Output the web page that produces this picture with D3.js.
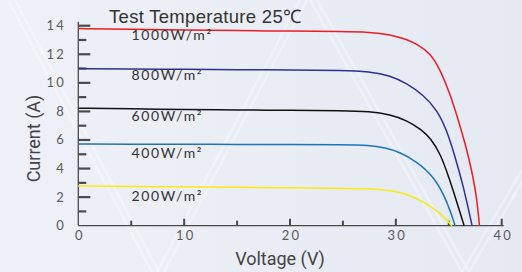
<!DOCTYPE html>
<html>
<head>
<meta charset="utf-8">
<script src="https://cdn.jsdelivr.net/npm/d3@7"></script>
<style>
  html, body { margin: 0; padding: 0; background: #e8ebf3; }
  svg { display: block; }
</style>
</head>
<body>
<svg id="chart" width="522" height="272"></svg>
<script>
// I-V curves at different irradiance levels, test temperature 25°C
const xTicks = [0, 10, 20, 30, 40];
const xMinor = [5, 15, 25, 35];
const yTicks = [0, 2, 4, 6, 8, 10, 12, 14];
const yMinor = [1, 3, 5, 7, 9, 11, 13];

const seriesNames = ['1000W/m²', '800W/m²', '600W/m²', '400W/m²', '200W/m²'];
const seriesColors = ['#ec1c24', '#2e3192', '#111111', '#1c75bc', '#f7ec13'];

// [voltage, current]
const curve1000 = [[0,13.8],[5,13.75],[10,13.7],[15,13.66],[20,13.62],[25,13.59],[27.5,13.55],[29.5,13.38],[31,13.05],[32,12.7],[33.3,12.06],[34.2,10.9],[35.1,9.27],[35.9,7.4],[36.6,5.6],[37.0,4.4],[37.6,2.3],[37.9,0]];
const curve800 = [[0,11.0],[5,10.97],[10,10.95],[15,10.92],[20,10.9],[25,10.88],[27.5,10.8],[29.5,10.5],[31,9.97],[32.6,9.15],[33.9,8.1],[34.8,6.7],[35.5,5.07],[36.4,2.73],[37.2,0]];
const curve600 = [[0,8.22],[5,8.18],[10,8.14],[15,8.1],[20,8.08],[25,8.06],[27.5,8.0],[29.5,7.78],[31,7.38],[32.4,6.75],[33.3,6.1],[34.2,5.07],[35.1,3.2],[35.9,1.33],[36.45,0]];
const curve400 = [[0,5.72],[5,5.71],[10,5.7],[15,5.69],[20,5.68],[25,5.67],[27.5,5.63],[29,5.45],[30.3,5.18],[32,4.48],[33.6,3.43],[34.8,1.8],[35.6,0]];
const curve200 = [[0,2.78],[5,2.75],[10,2.72],[15,2.69],[20,2.66],[24,2.63],[27.5,2.6],[29.5,2.45],[31,2.25],[32.9,1.57],[34.2,0.87],[35.3,0]];
const curves = [curve1000, curve800, curve600, curve400, curve200];
const labelY = [13.0, 10.23, 7.36, 4.72, 1.75];

const svg = d3.select('#chart');
const W = 522, H = 272;

// background
const defs = svg.append('defs');
const grad = defs.append('linearGradient').attr('id', 'bg').attr('x1', 0).attr('x2', 1).attr('y1', 0).attr('y2', 0);
grad.append('stop').attr('offset', 0).attr('stop-color', '#eef1f7');
grad.append('stop').attr('offset', 1).attr('stop-color', '#e5e9f2');
svg.append('rect').attr('width', W).attr('height', H).attr('fill', 'url(#bg)');

// faint decorative stripes
const stripes = [
  [[8, 0], [152, 272]], [[15, 0], [159, 272]],
  [[300, 0], [157, 272]], [[307, 0], [164, 272]],
  [[310, 0], [462, 272]], [[317, 0], [469, 272]],
  [[462, 272], [522, 170]], [[469, 272], [522, 182]]
];
svg.append('g').selectAll('line').data(stripes).join('line')
  .attr('x1', d => d[0][0]).attr('y1', d => d[0][1])
  .attr('x2', d => d[1][0]).attr('y2', d => d[1][1])
  .attr('stroke', '#ffffff').attr('stroke-width', 2.5).attr('opacity', 0.35);

const x = d3.scaleLinear().domain([0, 40]).range([78.3, 501.7]);
const y = d3.scaleLinear().domain([0, 14]).range([225.7, 25.7]);

const axisColor = '#4a4a4a';
const g = svg.append('g');

// axis lines
g.append('line').attr('x1', x(0)).attr('x2', x(0)).attr('y1', y(14) - 4).attr('y2', y(0))
  .attr('stroke', axisColor).attr('stroke-width', 1.3);
g.append('line').attr('x1', x(0)).attr('x2', x(40) + 2).attr('y1', y(0)).attr('y2', y(0))
  .attr('stroke', axisColor).attr('stroke-width', 1.3);

// y ticks (pointing inward)
g.selectAll('.ymaj').data(yTicks.filter(v => v > 0)).join('line')
  .attr('x1', x(0)).attr('x2', x(0) + 12)
  .attr('y1', d => y(d)).attr('y2', d => y(d))
  .attr('stroke', axisColor).attr('stroke-width', 2.2);
g.selectAll('.ymin').data(yMinor).join('line')
  .attr('x1', x(0)).attr('x2', x(0) + 8)
  .attr('y1', d => y(d)).attr('y2', d => y(d))
  .attr('stroke', axisColor).attr('stroke-width', 2.2);

// x ticks (pointing up)
g.selectAll('.xmaj').data(xTicks.filter(v => v > 0)).join('line')
  .attr('x1', d => x(d)).attr('x2', d => x(d))
  .attr('y1', y(0)).attr('y2', y(0) - 7)
  .attr('stroke', axisColor).attr('stroke-width', 2);
g.selectAll('.xmin').data(xMinor).join('line')
  .attr('x1', d => x(d)).attr('x2', d => x(d))
  .attr('y1', y(0)).attr('y2', y(0) - 5)
  .attr('stroke', axisColor).attr('stroke-width', 2);

// tick labels
const tickFont = 'Lato, "Noto Sans", sans-serif';
g.selectAll('.ylab').data(yTicks).join('text')
  .attr('x', 66).attr('y', d => y(d) + 4.5)
  .attr('text-anchor', 'end')
  .attr('font-family', tickFont).attr('font-size', 13)
  .attr('letter-spacing', 2.2)
  .attr('fill', '#5a5a5a').text(d => d);
g.selectAll('.xlab').data(xTicks).join('text')
  .attr('x', d => x(d) + 1.5).attr('y', 240)
  .attr('text-anchor', 'middle')
  .attr('font-family', tickFont).attr('font-size', 13)
  .attr('letter-spacing', 2.2)
  .attr('fill', '#5a5a5a').text(d => d);

// curves
const line = d3.line()
  .x(d => x(d[0]))
  .y(d => y(d[1]))
  .curve(d3.curveBasis);

g.selectAll('.curve').data(curves).join('path')
  .attr('d', d => line(d))
  .attr('fill', 'none')
  .attr('stroke', (d, i) => seriesColors[i])
  .attr('stroke-width', 1.5);

// series labels
g.selectAll('.slab').data(seriesNames).join('text')
  .attr('x', 131.5).attr('y', (d, i) => y(labelY[i]))
  .attr('font-family', tickFont).attr('font-size', 14)
  .attr('letter-spacing', 1.6)
  .attr('fill', '#333').text(d => d);

// title
svg.append('text')
  .attr('x', 109).attr('y', 22.5)
  .attr('font-family', '"Liberation Sans", Arial, sans-serif')
  .attr('font-size', 18.5)
  .attr('letter-spacing', 0.3)
  .attr('fill', '#333')
  .text('Test Temperature 25℃');

// axis titles
svg.append('text')
  .attr('x', 280).attr('y', 265)
  .attr('text-anchor', 'middle')
  .attr('font-family', 'Roboto, "Liberation Sans", sans-serif')
  .attr('font-size', 18)
  .attr('fill', '#444')
  .text('Voltage (V)');

svg.append('text')
  .attr('transform', 'translate(40,138.5) rotate(-90)')
  .attr('text-anchor', 'middle')
  .attr('font-family', 'Roboto, "Liberation Sans", sans-serif')
  .attr('font-size', 18)
  .attr('fill', '#444')
  .text('Current (A)');
</script>
</body>
</html>
